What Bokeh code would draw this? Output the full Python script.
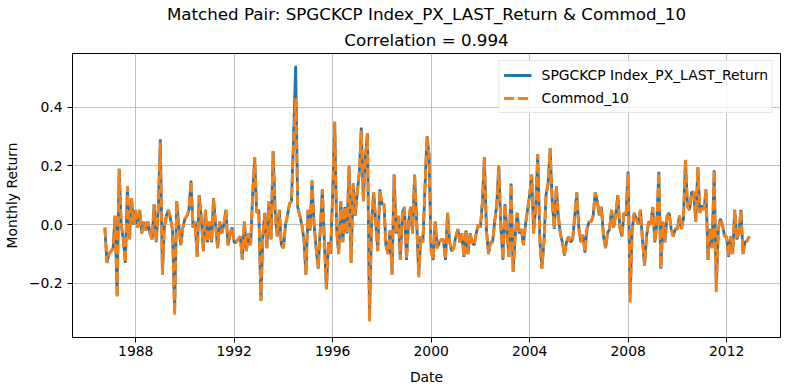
import pandas as pd
from datetime import datetime
from bokeh.plotting import figure
from bokeh.models import (ColumnDataSource, Range1d, FixedTicker, Legend, LegendItem,
                          Title, DatetimeTickFormatter)
from bokeh.embed import file_html
from bokeh.resources import INLINE

# ---------------- data ----------------
start_month = "1986-09-30"

spg_return = [
    -0.01, -0.13, -0.10, -0.09, -0.08, 0.03, -0.24, 0.19, 0.00, -0.05,
    -0.13, 0.13, -0.05, 0.09, 0.00, 0.05, -0.01, 0.05, -0.03, 0.01,
    -0.02, 0.01, -0.03, -0.05, 0.07, -0.06, 0.05, 0.29, -0.17, -0.01,
    0.03, 0.05, 0.02, -0.02, -0.30, 0.08, 0.00, -0.07, -0.01, 0.02,
    0.03, 0.05, 0.15, -0.01, 0.01, -0.11, 0.10, 0.02, -0.09, 0.05,
    -0.06, 0.01, -0.06, 0.09, 0.00, -0.08, 0.01, -0.03, 0.00, 0.05,
    -0.07, -0.03, -0.01, -0.06, -0.06, -0.05, -0.04, -0.12, 0.01, -0.09,
    -0.03, -0.07, 0.10, 0.23, 0.04, 0.05, -0.26, -0.04, 0.04, -0.08,
    0.08, -0.05, 0.25, 0.04, -0.04, 0.05, -0.07, -0.08, 0.00, 0.03,
    0.07, 0.08, 0.30, 0.54, 0.06, 0.03, 0.00, -0.05, -0.17, 0.05,
    -0.02, 0.15, 0.00, -0.08, -0.15, -0.02, 0.12, -0.06, -0.22, -0.06,
    -0.10, 0.10, 0.35, -0.02, -0.10, 0.08, -0.06, 0.06, -0.03, 0.20,
    -0.13, 0.14, 0.03, 0.11, 0.18, 0.33, 0.08, 0.23, 0.31, -0.32,
    0.01, 0.11, 0.01, -0.09, 0.12, 0.07, 0.07, -0.07, -0.10, -0.02,
    -0.17, 0.17, -0.03, 0.03, -0.12, 0.04, 0.06, -0.12, 0.01,
    0.06, -0.03, 0.17, 0.01, -0.17, -0.04, -0.06, 0.12, 0.30, 0.24,
    -0.09, -0.12, 0.01, -0.08, -0.06, -0.05, -0.05, -0.12, 0.04, -0.06,
    -0.09, -0.08, -0.04, -0.015, -0.06, -0.03, -0.11, -0.02, -0.10, -0.03,
    -0.06, -0.07, -0.03, 0.00, -0.01, 0.08, 0.23, -0.02, -0.10, -0.06,
    -0.06, 0.01, 0.07, 0.20, -0.01, -0.12, 0.07, -0.03, -0.11, 0.14,
    -0.16, -0.04, 0.04, -0.03, -0.015, -0.07, 0.00, 0.05, 0.10, 0.17,
    -0.03, 0.06, 0.24, -0.05, -0.15, -0.06, 0.10, 0.14, 0.26, 0.08,
    -0.015, 0.13, 0.03, -0.03, -0.06, -0.105, -0.06, -0.04, -0.06, -0.05,
    0.03, 0.11, -0.015, -0.06, -0.035, -0.095, -0.015, 0.01, 0.01,
    0.03, 0.11, 0.08, 0.03, 0.06, -0.04, -0.08, -0.03, -0.015, 0.05,
    -0.01, 0.03, 0.10, -0.01, -0.04, 0.04, 0.03, 0.18, -0.24, -0.02,
    0.04, 0.02, 0.00, 0.05, -0.05, -0.14, -0.04, 0.01, 0.00, 0.06,
    -0.06, 0.00, 0.18, -0.15, 0.01, -0.06, 0.03, 0.04, -0.015, -0.04,
    -0.015, -0.015, 0.03, -0.015, 0.02, 0.22, 0.06, 0.05, 0.11, 0.11,
    0.01, 0.195, 0.04, 0.065, 0.05, 0.12, -0.12, -0.015, -0.08, 0.185,
    -0.22, -0.015, 0.02, 0.00, -0.04, -0.04, -0.11, -0.04, -0.10, 0.05,
    -0.05, -0.03, 0.05, -0.10, -0.06, -0.055, -0.04,
]

commod_10 = [
    -0.01, -0.13, -0.10, -0.09, -0.08, 0.03, -0.25, 0.19, 0.00, -0.05,
    -0.13, 0.13, -0.05, 0.09, 0.00, 0.05, -0.01, 0.05, -0.03, 0.01,
    -0.02, 0.01, -0.03, -0.05, 0.07, -0.06, 0.05, 0.28, -0.17, -0.01,
    0.03, 0.05, 0.02, -0.02, -0.31, 0.08, 0.00, -0.07, -0.01, 0.02,
    0.03, 0.05, 0.15, -0.01, 0.01, -0.11, 0.10, 0.02, -0.09, 0.05,
    -0.06, 0.01, -0.06, 0.09, 0.00, -0.08, 0.01, -0.03, 0.00, 0.05,
    -0.07, -0.03, -0.01, -0.06, -0.06, -0.05, -0.04, -0.12, 0.01, -0.09,
    -0.03, -0.07, 0.10, 0.23, 0.04, 0.05, -0.26, -0.04, 0.04, -0.08,
    0.08, -0.05, 0.25, 0.04, -0.04, 0.05, -0.07, -0.08, 0.00, 0.03,
    0.07, 0.08, 0.28, 0.43, 0.06, 0.03, 0.00, -0.05, -0.17, 0.05,
    -0.02, 0.15, 0.00, -0.08, -0.15, -0.02, 0.12, -0.06, -0.22, -0.06,
    -0.10, 0.10, 0.35, -0.02, -0.10, 0.08, -0.06, 0.06, -0.03, 0.20,
    -0.13, 0.14, 0.03, 0.11, 0.18, 0.32, 0.08, 0.23, 0.31, -0.33,
    0.01, 0.11, 0.01, -0.09, 0.12, 0.07, 0.07, -0.07, -0.10, -0.02,
    -0.17, 0.17, -0.03, 0.03, -0.12, 0.04, 0.06, -0.12, 0.01,
    0.06, -0.03, 0.17, 0.01, -0.18, -0.04, -0.06, 0.12, 0.30, 0.24,
    -0.09, -0.12, 0.01, -0.08, -0.06, -0.05, -0.05, -0.12, 0.04, -0.06,
    -0.09, -0.08, -0.04, -0.015, -0.06, -0.03, -0.11, -0.02, -0.10, -0.03,
    -0.06, -0.07, -0.03, 0.00, -0.01, 0.08, 0.23, -0.02, -0.10, -0.06,
    -0.06, 0.01, 0.07, 0.20, -0.01, -0.12, 0.07, -0.03, -0.11, 0.14,
    -0.16, -0.04, 0.04, -0.03, -0.015, -0.07, 0.00, 0.05, 0.10, 0.17,
    -0.03, 0.06, 0.24, -0.05, -0.15, -0.06, 0.10, 0.14, 0.26, 0.08,
    -0.015, 0.13, 0.03, -0.03, -0.06, -0.105, -0.06, -0.04, -0.06, -0.05,
    0.03, 0.11, -0.015, -0.06, -0.035, -0.095, -0.015, 0.01, 0.01,
    0.03, 0.11, 0.08, 0.03, 0.06, -0.04, -0.08, -0.03, -0.015, 0.05,
    -0.01, 0.03, 0.10, -0.01, -0.04, 0.04, 0.03, 0.175, -0.265, -0.02,
    0.04, 0.02, 0.00, 0.05, -0.05, -0.14, -0.04, 0.01, 0.00, 0.06,
    -0.06, 0.00, 0.18, -0.15, 0.01, -0.06, 0.03, 0.04, -0.015, -0.04,
    -0.015, -0.015, 0.03, -0.015, 0.02, 0.22, 0.06, 0.05, 0.11, 0.11,
    0.01, 0.195, 0.04, 0.065, 0.05, 0.12, -0.12, -0.015, -0.08, 0.185,
    -0.23, -0.015, 0.02, 0.00, -0.04, -0.04, -0.11, -0.04, -0.10, 0.05,
    -0.05, -0.03, 0.05, -0.10, -0.06, -0.055, -0.04,
]

series_names = ["SPGCKCP Index_PX_LAST_Return", "Commod_10"]
title_text = "Matched Pair: SPGCKCP Index_PX_LAST_Return & Commod_10"
subtitle_text = "Correlation = 0.994"
x_tick_years = [1988, 1992, 1996, 2000, 2004, 2008, 2012]
y_ticks = [-0.2, 0.0, 0.2, 0.4]
y_tick_labels = ["\u22120.2", "0.0", "0.2", "0.4"]

assert len(spg_return) == len(commod_10)

# ---------------- plot ----------------
FONT = "DejaVu Sans"
dates = pd.date_range(start_month, periods=len(spg_return), freq="ME")
src = ColumnDataSource(dict(date=dates, spg=spg_return, commod=commod_10))

p = figure(frame_width=708, frame_height=284, x_axis_type="datetime", title=None,
           output_backend="svg", toolbar_location=None,
           x_range=Range1d(datetime(1985, 6, 7), datetime(2014, 3, 10)),
           y_range=Range1d(-0.384, 0.582),
           min_border_left=65, min_border_right=1,
           min_border_top=53, min_border_bottom=40)

p.background_fill_color = "white"
p.border_fill_color = "white"
p.outline_line_color = "black"
p.outline_line_width = 1

p.add_layout(Title(text=subtitle_text, align="center", text_font=FONT,
                   text_font_size="16.7px", text_font_style="normal",
                   text_color="black", standoff=8, text_line_height=0.7), "above")
p.add_layout(Title(text=title_text, align="center", text_font=FONT,
                   text_font_size="16.7px", text_font_style="normal",
                   text_color="black", standoff=0), "above")

r1 = p.line("date", "spg", source=src, line_color="#1f77b4", line_width=2.8)
r2 = p.line("date", "commod", source=src, line_color="#ff7f0e", line_width=2.8,
            line_dash="10 4")

legend = Legend(items=[LegendItem(label=series_names[0], renderers=[r1]),
                       LegendItem(label=series_names[1], renderers=[r2])],
                location="top_right", margin=7, padding=4, spacing=3,
                glyph_width=28, glyph_height=20, label_height=20, label_standoff=10,
                label_text_font=FONT, label_text_font_size="13.9px",
                label_text_color="black",
                border_line_color="#cccccc", border_line_width=1,
                background_fill_color="white", background_fill_alpha=0.8)
p.add_layout(legend)

tick_ms = [pd.Timestamp(f"{y}-01-01").value // 10**6 for y in x_tick_years]
p.xaxis.ticker = FixedTicker(ticks=tick_ms)
p.xaxis.formatter = DatetimeTickFormatter(years="%Y", months="%Y", days="%Y")
p.yaxis.ticker = FixedTicker(ticks=y_ticks)
p.yaxis.major_label_overrides = dict(zip(y_ticks, y_tick_labels))

p.xaxis.axis_label = "Date"
p.yaxis.axis_label = "Monthly Return"

for ax in (p.xaxis[0], p.yaxis[0]):
    ax.axis_line_color = "black"
    ax.axis_line_width = 1
    ax.major_tick_line_color = "black"
    ax.major_tick_line_width = 1
    ax.major_tick_in = 0
    ax.major_tick_out = 5
    ax.minor_tick_line_color = None
    ax.major_label_text_font = FONT
    ax.major_label_text_font_size = "13.9px"
    ax.major_label_text_color = "black"
    ax.axis_label_text_font = FONT
    ax.axis_label_text_font_size = "13.9px"
    ax.axis_label_text_font_style = "normal"
    ax.axis_label_text_color = "black"

p.xaxis[0].major_label_standoff = 3
p.xaxis[0].axis_label_standoff = 10
p.yaxis[0].major_label_standoff = 5
p.yaxis[0].axis_label_standoff = 6

for g in (p.xgrid[0], p.ygrid[0]):
    g.grid_line_color = "#b0b0b0"
    g.grid_line_width = 0.8

open("out.html", "w").write(file_html(p, INLINE))
